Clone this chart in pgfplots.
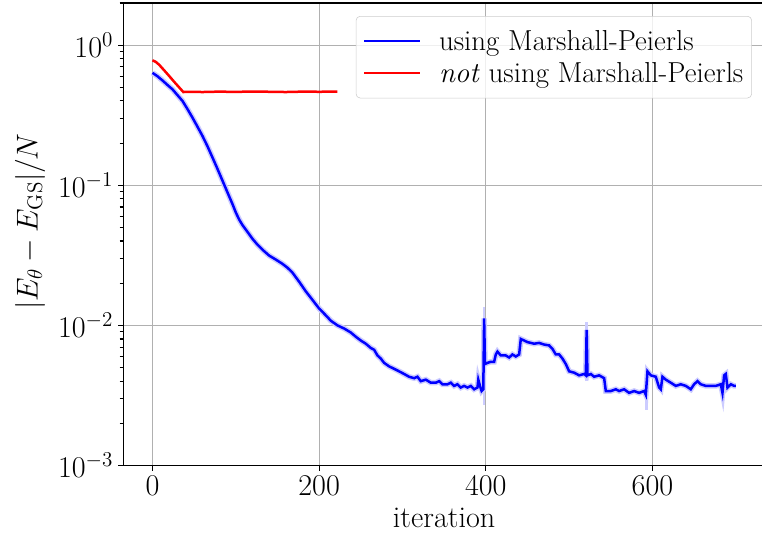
\RequirePackage{fix-cm}
\documentclass[border=0pt]{standalone}
\usepackage{pgfplots}
\pgfplotsset{compat=1.18}
\usepackage{pgfplotstable}
\definecolor{gridgray}{HTML}{B0B0B0}
\definecolor{leggray}{HTML}{CCCCCC}
\definecolor{mplblue}{HTML}{0000FF}
\definecolor{mplred}{HTML}{FF0000}

\pgfplotstableread{
x y
0 0.635
6 0.60
12 0.56
18 0.52
24 0.484
30 0.44
36 0.40
42 0.35
48 0.304
54 0.262
60 0.225
66 0.19
72 0.158
78 0.131
84 0.108
90 0.089
96 0.0735
100 0.0640
104 0.0570
108 0.0520
114 0.0465
120 0.0415
126 0.0377
132 0.0347
140 0.0315
148 0.0295
156 0.0275
162 0.0258
168 0.0238
176 0.0205
184 0.0175
192 0.0152
200 0.0132
208 0.0118
214 0.0108
222 0.0100
230 0.0095
238 0.0089
244 0.0083
250 0.0078
256 0.0074
262 0.0069
266 0.0067
270 0.0061
274 0.0058
278 0.0054
284 0.0051
290 0.0049
296 0.0047
302 0.0045
308 0.0043
314 0.0042
318 0.0043
322 0.0040
328 0.0041
334 0.0039
340 0.0039
344 0.0040
348 0.0038
354 0.0038
358 0.0039
362 0.0037
366 0.0038
370 0.0036
374 0.0037
378 0.0036
382 0.0037
386 0.0035
390 0.0036
391 0.0041
393 0.0037
395 0.0034
397 0.0035
398 0.0112
399 0.0053
402 0.0054
406 0.0055
410 0.0055
412 0.0062
414 0.0065
418 0.0061
424 0.0061
428 0.0059
432 0.0062
436 0.0060
440 0.0062
442 0.0080
446 0.0078
450 0.0076
454 0.0075
458 0.0074
464 0.0075
470 0.0073
476 0.0072
480 0.0068
484 0.0062
488 0.0062
492 0.0058
496 0.0053
500 0.0047
506 0.0046
512 0.0044
518 0.0045
520 0.0044
521 0.0093
522 0.0044
526 0.0045
530 0.0043
536 0.0044
542 0.0042
544 0.0034
550 0.0034
556 0.0035
560 0.0034
566 0.0035
572 0.0033
578 0.0034
584 0.0033
590 0.0034
592 0.0032
594 0.0047
598 0.0044
604 0.0043
608 0.0036
610 0.0035
612 0.0043
616 0.0041
622 0.0039
628 0.0037
634 0.0038
640 0.0037
646 0.0035
650 0.0038
654 0.0040
658 0.0038
664 0.0037
670 0.0037
676 0.0037
682 0.0038
684 0.0033
686 0.0044
688 0.0045
690 0.0036
694 0.0038
698 0.0037
700 0.0037
}\bluedata

\pgfplotstableread{
x y
0 0.78
4 0.76
8 0.725
14 0.662
20 0.603
26 0.548
32 0.500
37 0.463
45 0.465
60 0.463
80 0.466
100 0.464
120 0.467
140 0.465
160 0.463
180 0.466
200 0.465
222 0.466
}\reddata

\begin{document}
\begin{tikzpicture}[font=\fontsize{21.7}{26}\selectfont]
\begin{axis}[
  at={(0,0)}, anchor=south west,
  scale only axis, width=462pt, height=333pt,
  xmin=-35, xmax=735, ymin=1e-3, ymax=2,
  ymode=log, log basis y=10,
  xtick={0,200,400,600},
  ytick={1e-3,1e-2,1e-1,1},
  minor ytick={2e-3,3e-3,4e-3,5e-3,6e-3,7e-3,8e-3,9e-3,
               2e-2,3e-2,4e-2,5e-2,6e-2,7e-2,8e-2,9e-2,
               0.2,0.3,0.4,0.5,0.6,0.7,0.8,0.9,2},
  xmajorgrids, ymajorgrids,
  major grid style={gridgray, line width=0.8pt},
  xtick align=outside, ytick align=outside,
  xtick pos=bottom, ytick pos=left,
  major tick length=3.8pt, minor tick length=2.6pt,
  every major tick/.append style={draw=black, line width=0.9pt},
  every minor tick/.append style={draw=black, line width=0.8pt},
  axis line style={line width=0.8pt, black},
  xlabel={iteration},
  ylabel={$|E_\theta - E_{\mathrm{GS}}|/N$},
  every axis x label/.style={at={(rel axis cs:0.5,-0.1351)}, anchor=base},
  every axis y label/.style={at={(rel axis cs:-0.1454,0.527)}, rotate=90, anchor=center},
  legend cell align=left,
  legend image code/.code={\draw[#1, line width=1.8pt] (0pt,0pt) -- (40pt,0pt);},
  legend style={at={(0.9797,0.9719)}, anchor=north east,
    draw=leggray, rounded corners=3pt,
    fill=white, fill opacity=0.8, text opacity=1,
    inner xsep=5pt, inner ysep=9pt,
    row sep=5pt,
    nodes={inner sep=1pt},
    /tikz/every odd column/.append style={column sep=12pt},
    font=\fontsize{20.8}{25}\selectfont},
]
\addplot[blue!20, line width=4pt, forget plot] table[x=x,y=y] {\bluedata};
\addplot[blue!20, line width=2pt, forget plot] coordinates {(397.8,0.0027) (397.8,0.0135)};
\addplot[blue!20, line width=2pt, forget plot] coordinates {(521,0.0040) (521,0.0105)};
\addplot[blue!20, line width=2pt, forget plot] coordinates {(592.5,0.0025) (592.5,0.0034)};
\addplot[blue!20, line width=2pt, forget plot] coordinates {(684.5,0.0030) (684.5,0.0037)};
\addplot[mplblue, line width=1.8pt] table[x=x,y=y] {\bluedata};
\addlegendentry{using Marshall-Peierls}
\addplot[mplred, line width=1.8pt] table[x=x,y=y] {\reddata};
\addlegendentry{\textit{not} using Marshall-Peierls}
\end{axis}
\pgfresetboundingbox
\useasboundingbox (-88.78pt,-56.52pt) rectangle (459.86pt,335.16pt);
\end{tikzpicture}
\end{document}
